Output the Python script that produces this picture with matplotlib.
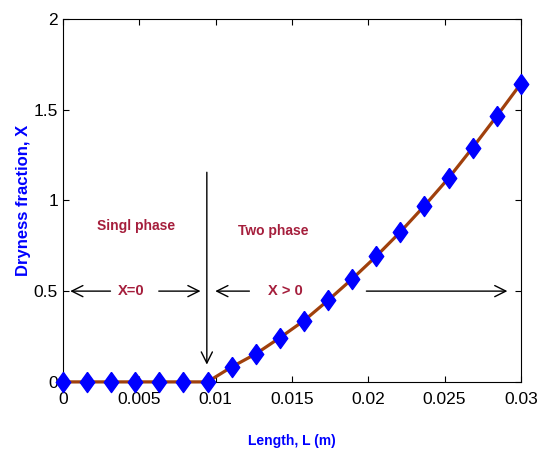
import numpy as np
import matplotlib
matplotlib.use('Agg')
from matplotlib import pyplot as plt

# длина канала и паросодержание
length = np.linspace(0, 0.03, 20)
dryness = [0, 0, 0, 0, 0, 0, 0,
           0.082, 0.154, 0.243, 0.337, 0.449, 0.567, 0.692,
           0.826, 0.970, 1.122, 1.290, 1.464, 1.643]

x_ticks = [0, 0.005, 0.01, 0.015, 0.02, 0.025, 0.03]
x_tick_labels = ['0', '0.005', '0.01', '0.015', '0.02', '0.025', '0.03']
y_ticks = [0, 0.5, 1, 1.5, 2]
y_tick_labels = ['0', '0.5', '1', '1.5', '2']

plt.rcParams['font.family'] = ['Liberation Sans', 'DejaVu Sans']

fig = plt.figure(figsize=(5.42, 4.59), dpi=100)
ax = fig.add_axes([0.116, 0.168, 0.845, 0.791])

# вытянутый ромб как в оригинале
diamond = [(0, 1), (0.72, 0), (0, -1), (-0.72, 0), (0, 1)]
ax.plot(length, dryness, color='#A0400C', linewidth=2.3, marker=diamond,
        markersize=14.5, markerfacecolor='#0000FF', markeredgecolor='#0000FF',
        zorder=3, clip_on=False)

ax.set_xlim(0, 0.03)
ax.set_ylim(0, 2)
ax.set_xticks(x_ticks)
ax.set_xticklabels(x_tick_labels)
ax.set_yticks(y_ticks)
ax.set_yticklabels(y_tick_labels)
ax.tick_params(direction='in', top=True, right=True, labelsize=12.5, length=4)
ax.tick_params(axis='x', pad=7)
for s in ax.spines.values():
    s.set_linewidth(0.8)

ax.set_xlabel('Length, L (m)', color='#0000FF', fontweight='bold', fontsize=10, labelpad=20)
ax.set_ylabel('Dryness fraction, X', color='#0000FF', fontweight='bold', fontsize=12, labelpad=2)

txt_color = '#A51E3C'
ax.text(0.0048, 0.86, 'Singl phase', color=txt_color, fontweight='bold', fontsize=10,
        ha='center', va='center')
ax.text(0.0138, 0.83, 'Two phase', color=txt_color, fontweight='bold', fontsize=10,
        ha='center', va='center')
ax.text(0.0045, 0.5, 'X=0', color=txt_color, fontweight='bold', fontsize=10.5,
        ha='center', va='center')
ax.text(0.0146, 0.5, 'X > 0', color=txt_color, fontweight='bold', fontsize=10.5,
        ha='center', va='center')

arrow = dict(arrowstyle='->', color='black', lw=1.0, mutation_scale=20)
ax.annotate('', xy=(0.0003, 0.5), xytext=(0.0033, 0.5), arrowprops=arrow)
ax.annotate('', xy=(0.0092, 0.5), xytext=(0.0061, 0.5), arrowprops=arrow)
ax.annotate('', xy=(0.0098, 0.5), xytext=(0.0124, 0.5), arrowprops=arrow)
ax.annotate('', xy=(0.0293, 0.5), xytext=(0.0197, 0.5), arrowprops=arrow)
ax.annotate('', xy=(0.00943, 0.08), xytext=(0.00943, 1.17), arrowprops=arrow)

fig.savefig('out.png', dpi=100)
